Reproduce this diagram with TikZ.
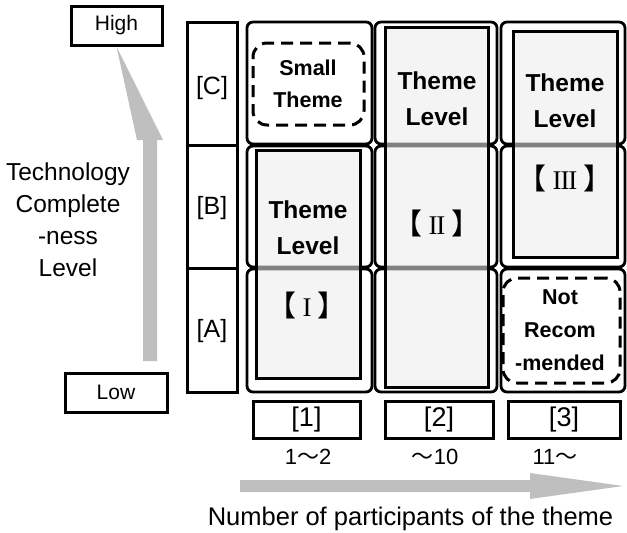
\documentclass[tikz,border=0pt]{standalone}
\usepackage{fontspec}
\setmainfont{Liberation Sans}
\newfontfamily\cjk{Noto Sans CJK JP}
\newfontfamily\serifnum{Liberation Serif}
\newcommand{\romnum}[1]{{\cjk 【}\hspace{6pt}{\serifnum\fontsize{27}{30}\selectfont #1}\hspace{6pt}{\cjk 】}}
\begin{document}
\begin{tikzpicture}[x=1pt,y=-1pt,
  cell/.style={draw=black, line width=2.8pt, rounded corners=6pt, minimum width=#1, inner sep=0pt},
  lvl/.style={draw=black, line width=3pt, fill=black!8, fill opacity=0.55, draw opacity=1, inner sep=0pt},
  dbox/.style={draw=black, line width=3pt, dash pattern=on 12pt off 7pt, rounded corners=14pt, inner sep=0pt},
  lab/.style={draw=black, line width=3pt, inner sep=0pt},
  rowlab/.style={draw=black, line width=3pt, inner sep=0pt, minimum width=50pt},
  bt/.style={font=\fontsize{24.5}{36}\selectfont\bfseries, align=center, inner sep=0pt},
  st/.style={font=\fontsize{21.5}{32}\selectfont\bfseries, align=center, inner sep=0pt},
  rt/.style={font=\fontsize{22}{27}\selectfont, inner sep=0pt},
  rn/.style={font=\fontsize{29}{32}\selectfont, inner sep=0pt},
  arr/.style={fill=black!25, draw=none}
]
\useasboundingbox (0,0) rectangle (627,533);

% row label column
\node[rowlab, minimum height=123pt] (rC) at (212,83.5) {};
\node[rowlab, minimum height=123pt] (rB) at (212,206.5) {};
\node[rowlab, minimum height=124pt] (rA) at (212,330) {};
\node[rt, font=\fontsize{25}{30}\selectfont] (tC) at (212,88) {[C]};
\node[rt, font=\fontsize{25}{30}\selectfont] (tB) at (212,208) {[B]};
\node[rt, font=\fontsize{25}{30}\selectfont] (tA) at (212,331) {[A]};

% cells
\node[cell=125pt, minimum height=122pt] (c1C) at (309.5,83) {};
\node[cell=122pt, minimum height=122pt] (c2C) at (436,83) {};
\node[cell=124pt, minimum height=122pt] (c3C) at (563,83) {};
\node[cell=125pt, minimum height=121pt] (c1B) at (309.5,206.5) {};
\node[cell=122pt, minimum height=121pt] (c2B) at (436,206.5) {};
\node[cell=124pt, minimum height=121pt] (c3B) at (563,206.5) {};
\node[cell=125pt, minimum height=123pt] (c1A) at (309.5,330.5) {};
\node[cell=122pt, minimum height=123pt] (c2A) at (436,330.5) {};
\node[cell=124pt, minimum height=123pt] (c3A) at (563,330.5) {};

% theme level boxes
\node[lvl, minimum width=104pt, minimum height=228pt] (g1) at (308,264) {};
\node[lvl, minimum width=103pt, minimum height=360pt] (g2) at (436.5,207) {};
\node[lvl, minimum width=104pt, minimum height=226pt] (g3) at (565,144) {};

\node[bt] (t1) at (308,228) {Theme\\Level};
\node[bt] (t2) at (437,99) {Theme\\Level};
\node[bt] (t3) at (565,101) {Theme\\Level};
\node[rn] (n1) at (307,305) {\romnum{I}};
\node[rn] (n2) at (437,223) {\romnum{I\kern-1.2ptI}};
\node[rn] (n3) at (565,178) {\romnum{I\kern-1.2ptI\kern-1.2ptI}};

% dashed boxes
\node[dbox, minimum width=111pt, minimum height=82pt] (small) at (308.5,84) {};
\node[st] (smallt) at (308,84) {Small\\Theme};
\node[dbox, minimum width=117pt, minimum height=105pt] (notr) at (561.5,330.5) {};
\node[st, font=\fontsize{21.5}{33}\selectfont\bfseries] (notrt) at (560,330.5) {Not\\Recom\\-mended};

% column labels
\node[lab, minimum width=107pt, minimum height=37pt, font=\fontsize{27}{30}\selectfont] (k1) at (306.5,419.5) {[1]};
\node[lab, minimum width=108pt, minimum height=37pt, font=\fontsize{27}{30}\selectfont] (k2) at (439,419.5) {[2]};
\node[lab, minimum width=112pt, minimum height=37pt, font=\fontsize{27}{30}\selectfont] (k3) at (564,419.5) {[3]};
\node[rt] (m1) at (308,457) {1{\cjk ～}2};
\node[rt] (m2) at (435,457) {{\cjk ～}10};
\node[rt] (m3) at (555,457) {11{\cjk ～}};

% axis labels
\node[lab, minimum width=91pt, minimum height=39pt, font=\fontsize{21}{25}\selectfont] (high) at (116.5,25.5) {High};
\node[lab, minimum width=102pt, minimum height=39pt, font=\fontsize{21}{25}\selectfont] (low) at (116,392.5) {Low};
\node[align=center, inner sep=0pt, font=\fontsize{24.5}{32}\selectfont] (tcl) at (68,220) {Technology\\Complete\\-ness\\Level};
\node[inner sep=0pt, font=\fontsize{25.5}{30}\selectfont] (npt) at (410.5,519) {Number of participants of the theme};

% arrows
\coordinate (vt) at (high.south);
\coordinate (ht) at (623,486);
\fill[arr] (143,361) -- (143,140) -- (137,140) -- (vt) -- (163,140) -- (157,140) -- (157,361) -- cycle;
\fill[arr] (240,480) -- (530,480) -- (530,473) -- (ht) -- (530,499) -- (530,492) -- (240,492) -- cycle;
\end{tikzpicture}
\end{document}
